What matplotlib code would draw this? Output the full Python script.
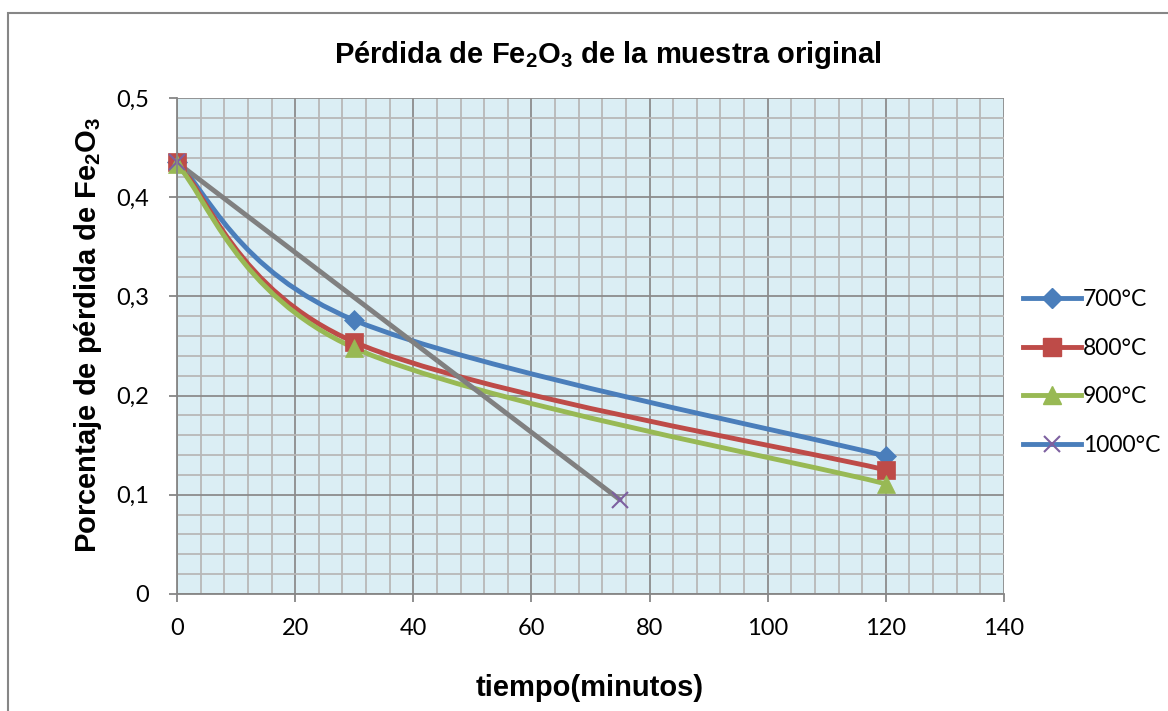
import matplotlib
matplotlib.use("Agg")
import matplotlib.pyplot as plt
from matplotlib.path import Path
from matplotlib.patches import PathPatch, Rectangle
from matplotlib.lines import Line2D
from matplotlib.ticker import MultipleLocator, FuncFormatter

# ---------------- data ----------------
t_700 = [0, 30, 120]
p_700 = [0.435, 0.276, 0.139]
t_800 = [0, 30, 120]
p_800 = [0.435, 0.254, 0.125]
t_900 = [0, 30, 120]
p_900 = [0.433, 0.248, 0.111]
t_1000 = [0, 75]
p_1000 = [0.435, 0.095]

series_names = ["700°C", "800°C", "900°C", "1000°C"]

plt.rcParams['mathtext.fontset'] = 'custom'
plt.rcParams['mathtext.rm'] = 'Liberation Sans:bold'
plt.rcParams['mathtext.it'] = 'Liberation Sans:bold'
plt.rcParams['mathtext.bf'] = 'Liberation Sans:bold'

TICKFONT = 'Lato'
LW = 3.5


def smooth_path(xs, ys):
    # excel-like smoothed line: bezier segments through the points
    pts = list(zip(xs, ys))
    verts = [pts[0]]
    codes = [Path.MOVETO]
    for i in range(len(pts) - 1):
        p0 = pts[i - 1] if i > 0 else pts[i]
        p1 = pts[i]
        p2 = pts[i + 1]
        p3 = pts[i + 2] if i + 2 < len(pts) else p2
        c1 = (p1[0] + (p2[0] - p0[0]) / 6, p1[1] + (p2[1] - p0[1]) / 6)
        c2 = (p2[0] - (p3[0] - p1[0]) / 6, p2[1] - (p3[1] - p1[1]) / 6)
        verts += [c1, c2, p2]
        codes += [Path.CURVE4] * 3
    return Path(verts, codes)


fig = plt.figure(figsize=(11.68, 7.11), dpi=100)

# outer chart border
fig.patches.append(Rectangle((8 / 1168, -0.05), 1.2, 1 - 13 / 711 + 0.05,
                             transform=fig.transFigure, fill=False,
                             edgecolor='#868686', linewidth=1.5))

ax = fig.add_axes([177 / 1168, 1 - 594 / 711, (1004 - 177) / 1168, (594 - 98) / 711])
ax.set_facecolor('#DBEEF4')
ax.set_axisbelow(True)

ax.set_xlim(0, 140)
ax.set_ylim(0, 0.5)
ax.xaxis.set_major_locator(MultipleLocator(20))
ax.xaxis.set_minor_locator(MultipleLocator(4))
ax.yaxis.set_major_locator(MultipleLocator(0.1))
ax.yaxis.set_minor_locator(MultipleLocator(0.02))
ax.grid(which='major', color='#8C8C8C', linewidth=1.3)
ax.grid(which='minor', color='#B8B8B8', linewidth=1.3)

for s in ['top', 'right']:
    ax.spines[s].set_visible(False)
for s in ['left', 'bottom']:
    ax.spines[s].set_color('#868686')
    ax.spines[s].set_linewidth(1.3)

ax.tick_params(which='major', direction='out', length=6, width=1.3, color='#868686',
               labelsize=17)
ax.tick_params(axis='x', which='major', pad=11)
ax.tick_params(axis='y', which='major', pad=14)
ax.tick_params(which='minor', length=0)
ax.yaxis.set_major_formatter(FuncFormatter(lambda v, p: ('%g' % round(v, 2)).replace('.', ',')))
for lab in ax.get_xticklabels() + ax.get_yticklabels():
    lab.set_fontfamily(TICKFONT)

styles = [
    (t_700, p_700, '#4A7EBB', 'D', 10.5, '#4A7EBB'),
    (t_800, p_800, '#BE4B48', 's', 13, '#BE4B48'),
    (t_900, p_900, '#98B954', '^', 13, '#98B954'),
    (t_1000, p_1000, '#808080', 'x', 12, '#7D60A0'),
]
for xs, ys, lc, mk, ms, mc in styles:
    ax.add_patch(PathPatch(smooth_path(xs, ys), fill=False, edgecolor=lc,
                           linewidth=LW, capstyle='round', joinstyle='round'))
    ax.plot(xs, ys, linestyle='none', marker=mk, markersize=ms, color=mc,
            markeredgewidth=1.5 if mk == 'x' else 0.5, clip_on=False)

handles = [
    Line2D([], [], color='#4A7EBB', lw=LW, marker='D', ms=10.5),
    Line2D([], [], color='#BE4B48', lw=LW, marker='s', ms=13),
    Line2D([], [], color='#98B954', lw=LW, marker='^', ms=13),
    Line2D([], [], color='#4A7EBB', lw=LW, marker='x', ms=12,
           markeredgecolor='#7D60A0', markeredgewidth=1.5),
]
leg = fig.legend(handles, series_names, loc='upper left',
                 bbox_to_anchor=(1012 / 1168, 1 - 278 / 711), frameon=False,
                 prop={'family': TICKFONT, 'size': 16.5}, handlelength=2.5,
                 handletextpad=0.1, labelspacing=1.2, borderpad=0)

fig.text(608 / 1168, 1 - 55 / 711,
         r'Pérdida de Fe$_\mathrm{2}$O$_\mathrm{3}$ de la muestra original',
         ha='center', va='center', fontsize=21, fontweight='bold',
         family='Liberation Sans')
fig.text(590 / 1168, 1 - 688 / 711, 'tiempo(minutos)', ha='center', va='center',
         fontsize=21, fontweight='bold', family='Liberation Sans')
fig.text(88 / 1168, 1 - 335 / 711,
         r'Porcentaje de pérdida de Fe$_\mathrm{2}$O$_\mathrm{3}$',
         ha='center', va='center', rotation=90, fontsize=21, fontweight='bold',
         family='Liberation Sans')

fig.savefig('out.png', dpi=100)
